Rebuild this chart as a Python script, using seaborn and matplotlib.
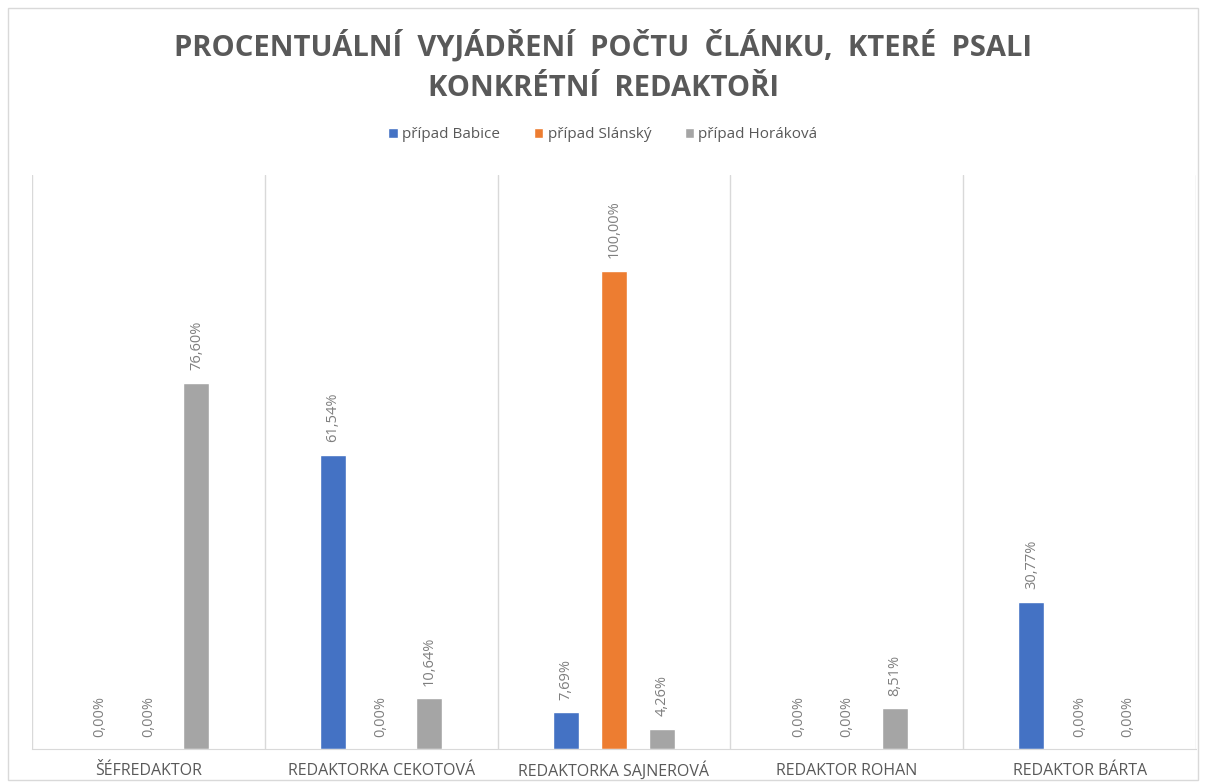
import pandas as pd
import matplotlib.pyplot as plt
import seaborn as sns
from matplotlib.patches import Rectangle

# data (percent of articles)
editors = ['ŠÉFREDAKTOR', 'REDAKTORKA CEKOTOVÁ', 'REDAKTORKA SAJNEROVÁ',
           'REDAKTOR ROHAN', 'REDAKTOR BÁRTA']
series = ['případ Babice', 'případ Slánský', 'případ Horáková']
babice = [0.00, 61.54, 7.69, 0.00, 30.77]
slansky = [0.00, 0.00, 100.00, 0.00, 0.00]
horakova = [76.60, 10.64, 4.26, 8.51, 0.00]
colors = ['#4472C4', '#ED7D31', '#A5A5A5']

df = pd.DataFrame({
    'editor': editors * 3,
    'case': [s for s in series for _ in editors],
    'value': babice + slansky + horakova,
})

sns.set_style('white')
plt.rcParams['font.family'] = ['Open Sans', 'DejaVu Sans']

fig = plt.figure(figsize=(12.06, 7.84), dpi=100)
ax = fig.add_axes([0.0265, 0.0446, 0.9652, 0.7322])

sns.barplot(data=df, x='editor', y='value', hue='case', palette=colors,
            saturation=1, width=0.62, gap=0.46, ax=ax, legend=True)

ax.set_ylim(0, 120)
ax.set_xlim(-0.5, len(editors) - 0.5)
ax.set_yticks([])
ax.set_xlabel('')
ax.set_ylabel('')

# category separators
for i in range(len(editors) + 1):
    ax.axvline(i - 0.5, color='#D9D9D9', lw=1, zorder=0)
for s in ['top', 'right', 'left']:
    ax.spines[s].set_visible(False)
ax.spines['bottom'].set_color('#D9D9D9')

ax.set_xticks(range(len(editors)), editors, va='baseline')
ax.tick_params(axis='x', length=0, pad=19, labelsize=11.5, labelcolor='#595959')

for cont in ax.containers:
    labels = [f'{v:.2f}'.replace('.', ',') + '%' for v in cont.datavalues]
    ax.bar_label(cont, labels=labels, rotation=90, padding=9,
                 fontsize=10.5, color='#7F7F7F')

handles, names = ax.get_legend_handles_labels()
ax.get_legend().remove()
fig.legend(handles, names, loc='center', bbox_to_anchor=(0.5, 0.828), ncol=3,
           frameon=False, fontsize=11, handlelength=0.6, handleheight=0.6,
           columnspacing=2.2, handletextpad=0.3, labelcolor='#595959')

fig.text(0.5, 0.962, 'PROCENTUÁLNÍ  VYJÁDŘENÍ  POČTU  ČLÁNKU,  KTERÉ  PSALI\nKONKRÉTNÍ  REDAKTOŘI',
         ha='center', va='top', fontsize=21, fontweight='bold', color='#595959',
         linespacing=1.55)

fig.patches.append(Rectangle((0.007, 0.005), 0.986, 0.985, transform=fig.transFigure,
                             fill=False, edgecolor='#D9D9D9', lw=1))

fig.savefig('out.png', dpi=100)
